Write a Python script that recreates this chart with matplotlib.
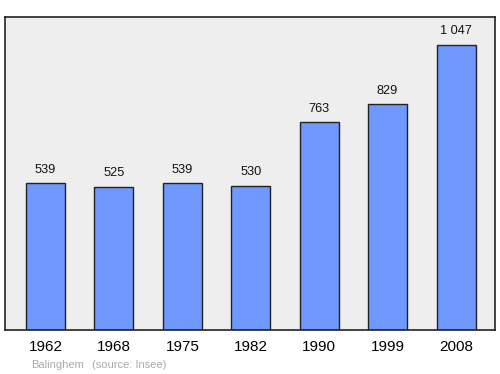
import matplotlib
matplotlib.use("Agg")
import matplotlib.pyplot as plt

years = ["1962", "1968", "1975", "1982", "1990", "1999", "2008"]
population = [539, 525, 539, 530, 763, 829, 1047]
value_labels = ["539", "525", "539", "530", "763", "829", "1 047"]
commune = "Balinghem"
source = "(source: Insee)"

plt.rcParams['font.family'] = ['Liberation Sans', 'DejaVu Sans']

W, H = 500, 374
fig = plt.figure(figsize=(W / 100, H / 100), dpi=100)
ax = fig.add_axes([5 / W, 1 - 330 / H, 490 / W, (330 - 17) / H])
ax.set_facecolor('#eeeeee')

x = list(range(len(years)))
ax.bar(x, population, width=0.57, color='#7099ff', edgecolor='#222222', linewidth=1.0, zorder=2)
for xi, v, lab in zip(x, population, value_labels):
    ax.annotate(lab, (xi, v), xytext=(0, 5.5), textcoords='offset points',
                ha='center', va='bottom', fontsize=9.2, color='#111111')

ax.set_xlim(-0.592, 6.57)
ax.set_ylim(0, 1150)
ax.set_yticks([])
ax.set_xticks(x)
ax.set_xticklabels(years, fontsize=11)
ax.tick_params(axis='x', length=0, pad=7.5)
for s in ax.spines.values():
    s.set_color('#222222')
    s.set_linewidth(1.2)

fig.text(31 / W, 1 - 365 / H, commune, fontsize=8, color='#aaaaaa', ha='left', va='center')
fig.text(92 / W, 1 - 365 / H, source, fontsize=8, color='#aaaaaa', ha='left', va='center')

fig.savefig('out.png', dpi=100)
